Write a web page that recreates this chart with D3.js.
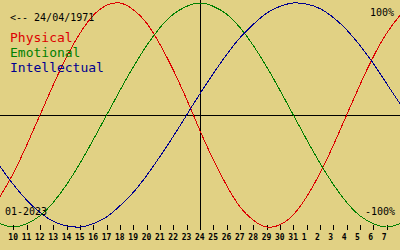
<!DOCTYPE html>
<html>
<head>
<meta charset="utf-8">
<script src="https://cdn.jsdelivr.net/npm/d3@7"></script>
<style>
	html, body { margin: 0; padding: 0; background: #e1d184; }
	svg { display: block; }
	text { font-family: "DejaVu Sans Mono", "Liberation Mono", monospace; }
</style>
</head>
<body>
<div id="bioViz"><svg></svg></div>
<script>
// one entry per day, from 9 Jan to 8 Feb
var dayLabels = ["9","10","11","12","13","14","15","16","17","18","19","20","21","22","23","24",
	"25","26","27","28","29","30","31","1","2","3","4","5","6","7","8"];

// values in percent
var physical = [-73,-52,-27,0,27,52,73,89,98,100,94,82,63,40,14,-14,
	-40,-63,-82,-94,-100,-98,-89,-73,-52,-27,0,27,52,73,89];
var emotional = [-97,-100,-97,-90,-78,-62,-43,-22,0,22,43,62,78,90,97,100,
	97,90,78,62,43,22,0,-22,-43,-62,-78,-90,-97,-100,-97];
var intellectual = [-46,-62,-76,-87,-95,-99,-100,-97,-91,-81,-69,-54,-37,-19,0,19,
	37,54,69,81,91,97,100,99,95,87,76,62,46,28,10];

var legendNames = ["Physical", "Emotional", "Intellectual"];
var legendColors = ["#dd0000", "#008000", "#000090"];
var birthLabel = "<-- 24/04/1971";
var monthLabel = "01-2023";
var topLabel = "100%";
var bottomLabel = "-100%";

;(function(){
	var w = 400;
	var h = 250;
	var centerIndex = 15;

	var svg = d3.select("#bioViz svg")
		.attr("width", w)
		.attr("height", h);

	var xscale = d3.scaleLinear()
		.domain([0, dayLabels.length - 1])
		.range([0, w]);

	var yscale = d3.scaleLinear()
		.domain([-100, 100])
		.range([227, 3]);

	var y0 = Math.round(yscale(0)) + 0.5;
	var xc = Math.round(xscale(centerIndex)) + 0.5;

	// horizontal zero line
	svg.append("line")
		.attr("x1", 0)
		.attr("x2", w)
		.attr("y1", y0)
		.attr("y2", y0)
		.attr("stroke", "black")
		.attr("shape-rendering", "crispEdges");

	// today line
	svg.append("line")
		.attr("x1", xc)
		.attr("x2", xc)
		.attr("y1", 0)
		.attr("y2", 230)
		.attr("stroke", "black")
		.attr("shape-rendering", "crispEdges");

	// day ticks and labels
	var tickIdx = d3.range(1, dayLabels.length - 1);

	svg.selectAll("line.day-tick")
		.data(tickIdx)
		.enter().append("line")
			.attr("class", "day-tick")
			.attr("x1", function(d){ return Math.round(xscale(d)) + 0.5; })
			.attr("x2", function(d){ return Math.round(xscale(d)) + 0.5; })
			.attr("y1", 225)
			.attr("y2", 230)
			.attr("stroke", "black")
			.attr("shape-rendering", "crispEdges");

	svg.selectAll("text.day-label")
		.data(tickIdx)
		.enter().append("text")
			.attr("class", "day-label")
			.attr("x", function(d){ return xscale(d) - 5; })
			.attr("y", 240)
			.attr("fill", "black")
			.style("font-size", "8px")
			.style("font-weight", "bold")
			.text(function(d){ return dayLabels[d]; });

	// the three curves
	var line = d3.line()
		.x(function(d, i){ return xscale(i); })
		.y(function(d){ return yscale(d); })
		.curve(d3.curveNatural);

	svg.selectAll("path.cycle")
		.data([physical, emotional, intellectual])
		.enter().append("path")
			.attr("class", "cycle")
			.attr("d", line)
			.attr("fill", "none")
			.attr("stroke", function(d, i){ return legendColors[i]; })
			.attr("stroke-width", 1)
			.attr("shape-rendering", "crispEdges");

	// texts
	svg.append("text")
		.attr("x", 10)
		.attr("y", 21)
		.attr("fill", "black")
		.style("font-size", "10px")
		.text(birthLabel);

	svg.selectAll("text.legend")
		.data(legendNames)
		.enter().append("text")
			.attr("class", "legend")
			.attr("x", 10)
			.attr("y", function(d, i){ return 42 + i * 15; })
			.attr("fill", function(d, i){ return legendColors[i]; })
			.style("font-size", "13px")
			.text(function(d){ return d; });

	svg.append("text")
		.attr("x", 394)
		.attr("y", 16)
		.attr("fill", "black")
		.style("font-size", "10px")
		.style("text-anchor", "end")
		.text(topLabel);

	svg.append("text")
		.attr("x", 395)
		.attr("y", 215)
		.attr("fill", "black")
		.style("font-size", "10px")
		.style("text-anchor", "end")
		.text(bottomLabel);

	svg.append("text")
		.attr("x", 5)
		.attr("y", 215)
		.attr("fill", "black")
		.style("font-size", "10px")
		.text(monthLabel);
})();
</script>
</body>
</html>
